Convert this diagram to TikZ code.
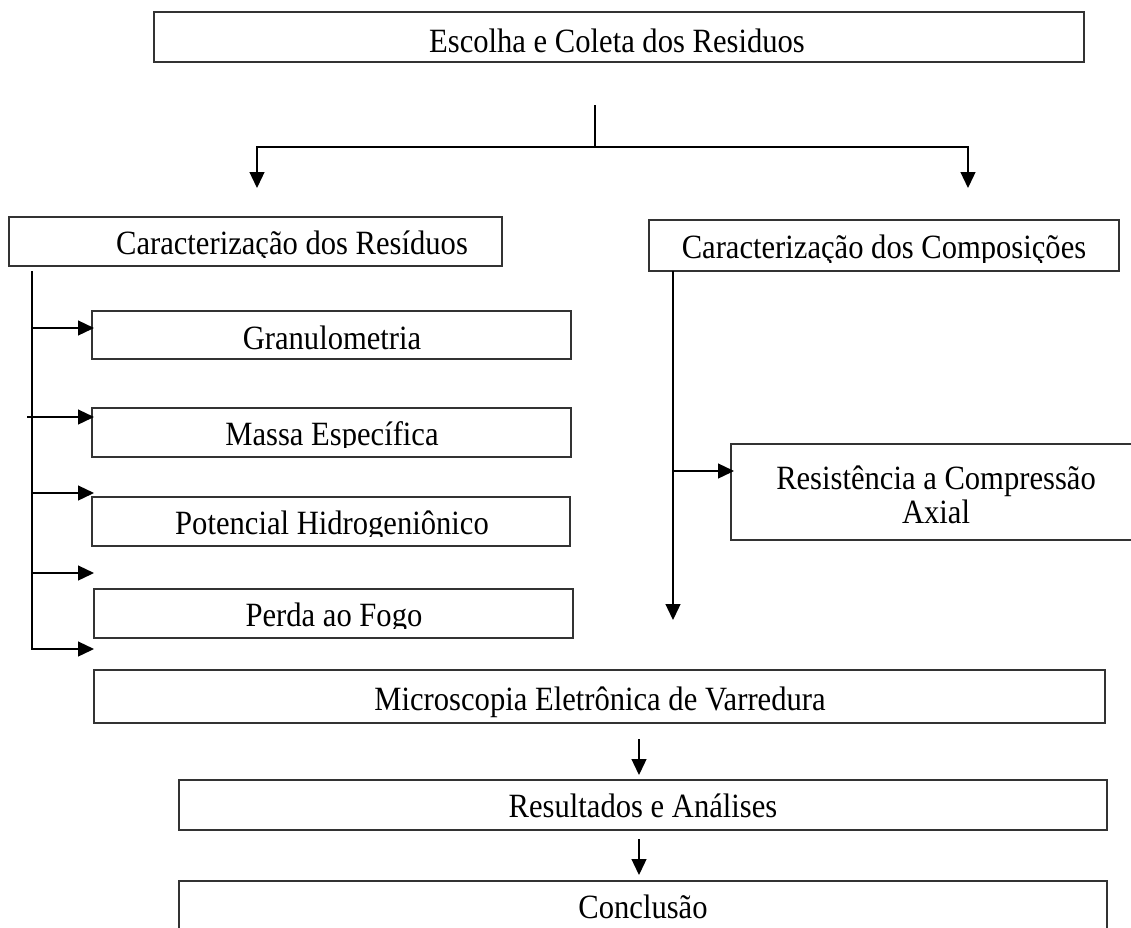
\documentclass[tikz,border=0pt]{standalone}
\usepackage{fontspec}
\setmainfont{Liberation Serif}[FakeStretch=0.9]
\usetikzlibrary{arrows.meta,fit}
\tikzset{
  box/.style={draw=black!80, line width=1.2pt, inner sep=0pt},
  txt/.style={anchor=base, inner sep=0pt, font=\fontsize{34}{34}\selectfont},
  conn/.style={line width=1.3pt, -{Triangle[length=16pt,width=15pt]}},
  plain/.style={line width=1.3pt},
}
\newcommand\cliptxt[5]{%
  \begin{scope}\clip (0,0) rectangle (1131,#4);
  \node[txt] (#1) at (#2,#3) {#5};\end{scope}}
\begin{document}
\begin{tikzpicture}[x=1pt,y=-1pt]
\useasboundingbox (0,0) rectangle (1131,927);
\clip (0,0) rectangle (1131,927);
\fill[white] (0,0) rectangle (1131,927);

% boxes
\node[box, fit={(154,12)(1084,62)}] (escolha) {};
\node[box, fit={(9,217)(502,266)}] (carres) {};
\node[box, fit={(649,220)(1119,271)}] (carcomp) {};
\node[box, fit={(92,311)(571,359)}] (gran) {};
\node[box, fit={(92,408)(571,457)}] (massa) {};
\node[box, fit={(92,497)(570,546)}] (pot) {};
\node[box, fit={(94,589)(573,638)}] (perda) {};
\node[box, fit={(731,444)(1141,540)}] (resist) {};
\node[box, fit={(94,670)(1105,723)}] (micro) {};
\node[box, fit={(179,780)(1107,830)}] (result) {};
\node[box, fit={(179,881)(1107,960)}] (concl) {};

% texts
\node[txt] (escolha-t) at (617,52) {Escolha e Coleta dos Residuos};
\cliptxt{carres-t}{292}{254}{257}{Caracterização dos Resíduos}
\cliptxt{carcomp-t}{884}{258}{262}{Caracterização dos Composições}
\node[txt] (gran-t) at (332,349) {Granulometria};
\cliptxt{massa-t}{332}{445}{447}{Massa Específica}
\cliptxt{pot-t}{332}{534}{536}{Potencial Hidrogeniônico}
\cliptxt{perda-t}{334}{626}{628}{Perda ao Fogo}
\node[txt, align=center, anchor=center] (resist-t) at (936,495) {Resistência a Compressão\\Axial};
\node[txt] (micro-t) at (600,710) {Microscopia Eletrônica de Varredura};
\node[txt] (result-t) at (643,817) {Resultados e Análises};
\node[txt] (concl-t) at (643,918) {Conclusão};

% top split
\coordinate (j0) at (595,105);
\coordinate (j1) at (595,147);
\coordinate (tl) at (257,188);
\coordinate (tr) at (968,188);
\draw[plain] (j0) -- (j1);
\draw[conn] (j1) -| (tl);
\draw[conn] (j1) -| (tr);

% left spine
\coordinate (ls) at (32,271);
\coordinate (l1) at (94,328);
\coordinate (l2) at (94,417);
\coordinate (l3) at (94,493);
\coordinate (l4) at (94,573);
\coordinate (l5) at (94,649);
\draw[conn] (ls) |- (l5);
\draw[conn] (ls |- l1) -- (l1);
\draw[conn] ([xshift=-5pt]ls |- l2) -- (l2);
\draw[conn] (ls |- l3) -- (l3);
\draw[conn] (ls |- l4) -- (l4);

% right spine
\coordinate (rs) at (673,271);
\coordinate (rb) at (673,620);
\coordinate (r1) at (734,471);
\draw[conn] (rs) -- (rb);
\draw[conn] (rs |- r1) -- (r1);

% bottom chain
\coordinate (m0) at (639,739);
\coordinate (m1) at (639,775);
\coordinate (n0) at (639,839);
\coordinate (n1) at (639,875);
\draw[conn] (m0) -- (m1);
\draw[conn] (n0) -- (n1);
\end{tikzpicture}
\end{document}
